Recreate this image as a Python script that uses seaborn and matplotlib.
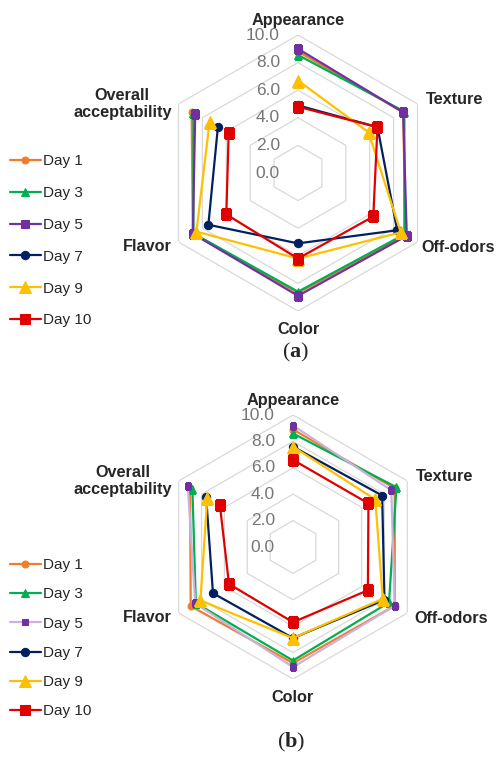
import matplotlib
matplotlib.use("Agg")
import matplotlib.pyplot as plt
import numpy as np
import seaborn as sns

# attributes, clockwise from the top
attributes = ["Appearance", "Texture", "Off-odors", "Color", "Flavor", "Overall\nacceptability"]
days = ["Day 1", "Day 3", "Day 5", "Day 7", "Day 9", "Day 10"]
ring_values = [0.0, 2.0, 4.0, 6.0, 8.0, 10.0]

# panel (a) scores, same order as attributes
a_day1 = [8.8, 8.8, 9.0, 8.7, 8.8, 8.9]
a_day3 = [8.55, 8.9, 8.9, 8.6, 8.75, 8.75]
a_day5 = [9.0, 8.8, 9.1, 8.9, 8.8, 8.6]
a_day7 = [4.9, 6.65, 8.3, 5.1, 7.5, 6.7]
a_day9 = [6.7, 5.9, 8.6, 6.2, 8.5, 7.4]
a_day10 = [4.8, 6.65, 6.3, 6.2, 6.0, 5.8]

# panel (b) scores
b_day1 = [8.9, 8.9, 8.9, 8.8, 8.95, 9.0]
b_day3 = [8.6, 9.05, 8.4, 8.6, 8.5, 8.8]
b_day5 = [9.2, 8.6, 8.9, 9.1, 8.55, 9.2]
b_day7 = [7.6, 7.8, 8.0, 6.9, 7.0, 7.6]
b_day9 = [7.6, 7.2, 7.85, 6.9, 8.1, 7.5]
b_day10 = [6.6, 6.6, 6.55, 5.7, 5.6, 6.4]

colors = ["#ED7D31", "#00B050", "#7030A0", "#002060", "#FFC000", "#E00000"]
markers = ["o", "^", "s", "o", "^", "s"]
sizes_a = [5, 6, 6, 6, 9, 7]
sizes_b = [5, 6, 5, 6, 8, 7]
line_colors_b = ["#ED7D31", "#00B050", "#C9B3DC", "#002060", "#FFC000", "#E00000"]


def radar(ax, series, line_colors, msizes, off_dx):
    theta = np.linspace(0, 2 * np.pi, len(attributes), endpoint=False)
    closed = np.append(theta, theta[0])
    ax.set_theta_zero_location("N")
    ax.set_theta_direction(-1)
    ax.set_ylim(0, 10)
    ax.grid(False)
    ax.spines["polar"].set_visible(False)
    ax.set_xticks([])
    ax.set_yticks([])
    ax.patch.set_alpha(0)

    # hexagonal rings
    for v in ring_values[1:]:
        ax.plot(closed, [v] * len(closed), color="#D9D9D9", lw=0.9, zorder=1)
    for v in ring_values:
        ax.annotate(f"{v:.1f}", xy=(0, v), xytext=(-13, 0), textcoords="offset points",
                    ha="right", va="center", fontsize=12.5, color="#767676", zorder=2)

    for name, vals, c, m, ms in zip(days, series, line_colors, markers, msizes):
        mc = "#7030A0" if name == "Day 5" else c
        sns.lineplot(x=closed, y=np.append(vals, vals[0]), sort=False, ax=ax,
                     color=c, lw=1.6, marker=m, markersize=ms, markerfacecolor=mc,
                     markeredgecolor=mc, label=name, zorder=3)

    # category labels around the hexagon
    spots = [(0, 5, "center", "bottom"), (6, 3, "left", "center"), (off_dx, -4, "left", "center"),
             (0, -8, "center", "top"), (-5, -3, "right", "center"), (-5, 0, "right", "center")]
    for t, lab, (dx, dy, ha, va) in zip(theta, attributes, spots):
        ax.annotate(lab, xy=(t, 10), xytext=(dx, dy), textcoords="offset points",
                    ha=ha, va=va, multialignment="center", fontsize=11.7,
                    fontweight="bold", annotation_clip=False)
    ax.get_legend().remove()


sns.set_theme(style="white")
plt.rcParams["font.family"] = ["Liberation Sans", "DejaVu Sans"]
plt.rcParams["mathtext.fontset"] = "custom"
plt.rcParams["mathtext.bf"] = "Liberation Serif:bold"
plt.rcParams["mathtext.rm"] = "Liberation Serif"

fig = plt.figure(figsize=(4.96, 7.62), dpi=100)
ax_a = fig.add_axes([160 / 496, 1 - 311 / 762, 276 / 496, 276 / 762], projection="polar")
ax_b = fig.add_axes([161 / 496, 1 - 679 / 762, 264 / 496, 264 / 762], projection="polar")

radar(ax_a, [a_day1, a_day3, a_day5, a_day7, a_day9, a_day10], colors, sizes_a, 2.5)
radar(ax_b, [b_day1, b_day3, b_day5, b_day7, b_day9, b_day10], line_colors_b, sizes_b, 5)

for ax, top, spacing in [(ax_a, 148, 1.17), (ax_b, 552, 1.0)]:
    h, l = ax.get_legend_handles_labels()
    fig.legend(h, l, loc="upper left", bbox_to_anchor=(4 / 496, 1 - top / 762),
               frameon=False, fontsize=11, handlelength=2.0, handletextpad=0.15,
               labelspacing=spacing, borderaxespad=0)

fig.text(296 / 496, 1 - 352 / 762, r"($\mathbf{a}$)", ha="center", va="center",
         fontsize=16, family="Liberation Serif")
fig.text(291 / 496, 1 - 742 / 762, r"($\mathbf{b}$)", ha="center", va="center",
         fontsize=16, family="Liberation Serif")

fig.savefig("out.png", dpi=100)
